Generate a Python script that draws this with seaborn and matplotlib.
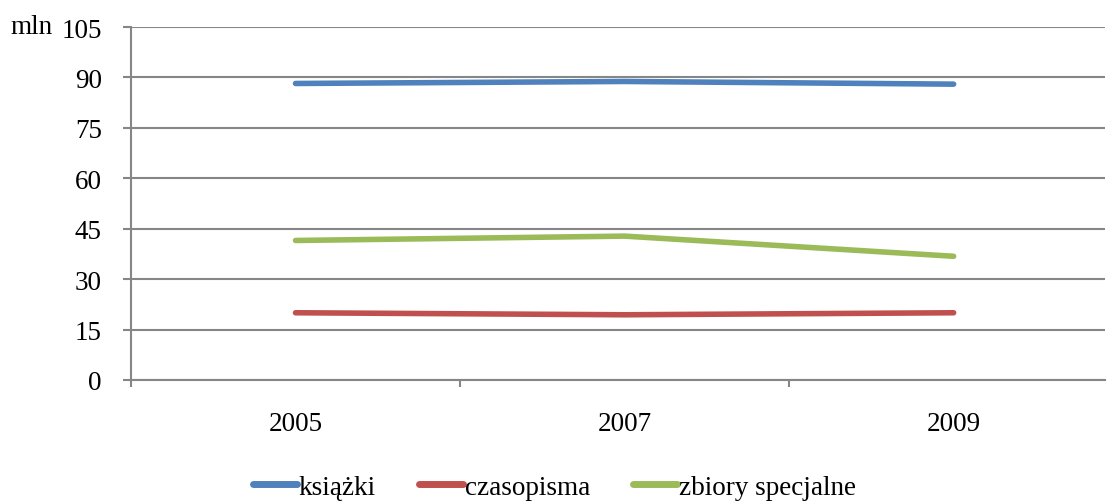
import pandas as pd
import matplotlib.pyplot as plt
import seaborn as sns

# Data (mln volumes)
years = ['2005', '2007', '2009']
ksiazki = [88.2, 88.8, 88.0]
czasopisma = [20.0, 19.4, 20.0]
zbiory = [41.5, 42.8, 36.8]
series_names = ['książki', 'czasopisma', 'zbiory specjalne']
colors = ['#4F81BD', '#C0504D', '#9BBB59']
y_ticks = [0, 15, 30, 45, 60, 75, 90, 105]

# Long format for seaborn
df = pd.DataFrame({
    'rok': years * 3,
    'wartosc': ksiazki + czasopisma + zbiory,
    'seria': [s for s in series_names for _ in years],
})

sns.set_theme(style='white')
plt.rcParams['font.family'] = ['Liberation Serif', 'DejaVu Serif']
plt.rcParams['text.color'] = 'black'
plt.rcParams['xtick.labelcolor'] = 'black'
plt.rcParams['ytick.labelcolor'] = 'black'
grid_col = '#868686'
fs = 19.5

fig = plt.figure(figsize=(11.09, 5.02), dpi=100)
ax = fig.add_axes([131 / 1109, 1 - 381 / 502, (1105 - 131) / 1109, (381 - 28) / 502])

sns.lineplot(data=df, x='rok', y='wartosc', hue='seria', hue_order=series_names,
             palette=colors, linewidth=4, solid_capstyle='round', ax=ax)

# y axis
ax.set_ylim(0, 105)
ax.set_yticks(y_ticks)
ax.set_yticklabels([str(t) for t in y_ticks], fontsize=fs)
ax.yaxis.grid(True, color=grid_col, linewidth=1.5)
ax.set_axisbelow(True)

# x axis: ticks between categories, labels at centres
ax.set_xlim(-0.5, 2.46)
ax.set_xticks([-0.5, 0.5, 1.5], labels=['', '', ''])
ax.set_xticks([0, 1, 2], labels=years, minor=True)
ax.tick_params(axis='x', which='major', direction='out', length=5, width=1.5,
               color=grid_col, bottom=True)
ax.tick_params(axis='x', which='minor', length=0, pad=22, labelsize=fs)
ax.tick_params(axis='y', direction='out', length=6, width=1.5, color=grid_col,
               left=True, pad=15)
ax.set_xlabel('')
ax.set_ylabel('')

for side in ['top', 'right']:
    ax.spines[side].set_visible(False)
for side in ['left', 'bottom']:
    ax.spines[side].set_color(grid_col)
    ax.spines[side].set_linewidth(1.5)

fig.text(10 / 1109, 1 - 28 / 502, 'mln', fontsize=fs, va='center', ha='left')

handles, labels = ax.get_legend_handles_labels()
ax.get_legend().remove()
leg = fig.legend(handles, labels, loc='center', bbox_to_anchor=(0.5, 0.027),
                 ncol=3, frameon=False, fontsize=fs, handlelength=1.6,
                 handletextpad=0.08, columnspacing=1.6)
for line in leg.get_lines():
    line.set_linewidth(5)
    line.set_solid_capstyle('round')

fig.savefig('out.png', dpi=100)
